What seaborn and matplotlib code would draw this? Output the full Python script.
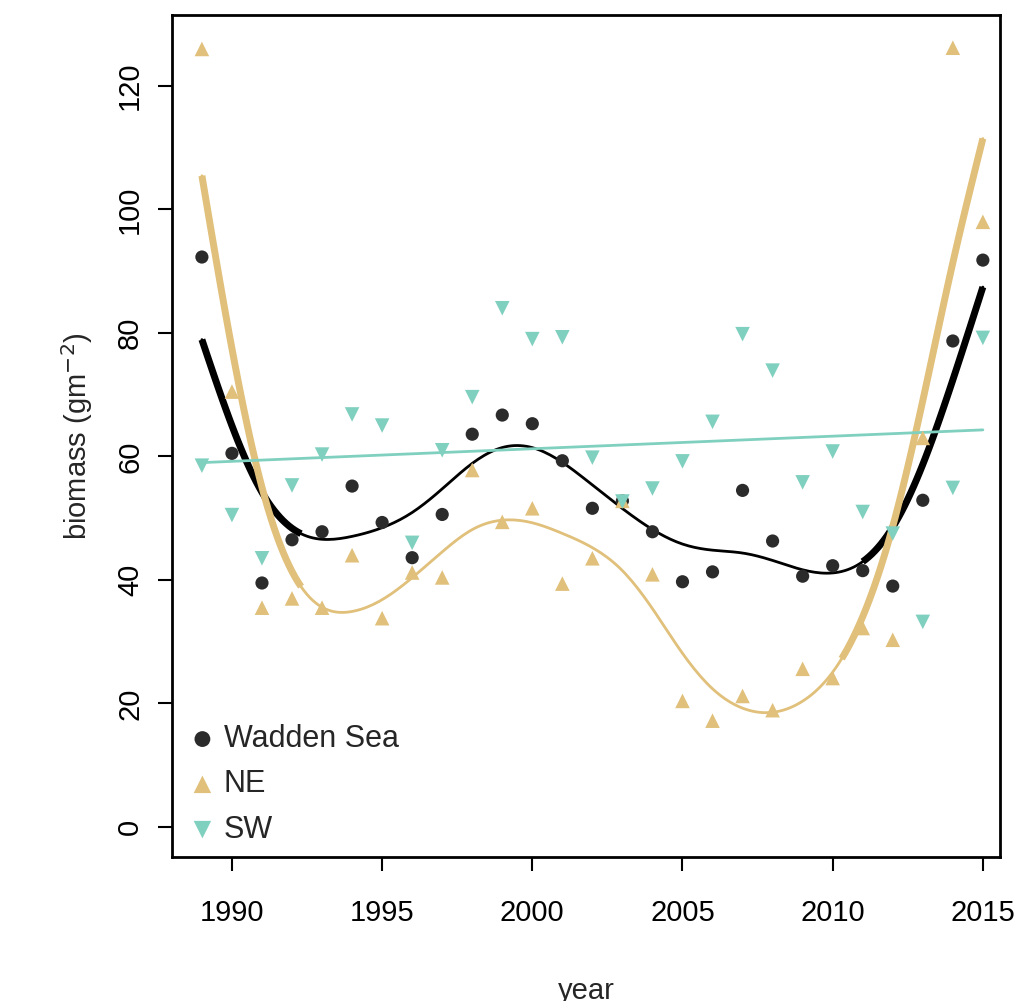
import numpy as np
import matplotlib.pyplot as plt
import seaborn as sns

sns.set_style("ticks")
plt.rcParams['font.family'] = ['Liberation Sans', 'DejaVu Sans']

years = np.arange(1989, 2016)
wadden = [92.3, 60.5, 39.5, 46.5, 47.8, 55.2, 49.3, 43.6, 50.6, 63.6, 66.7, 65.3, 59.3, 51.6,
          52.8, 47.8, 39.7, 41.3, 54.5, 46.3, 40.6, 42.3, 41.5, 39.0, 52.9, 78.7, 91.8]
ne = [126.0, 70.5, 35.5, 37.0, 35.5, 44.0, 33.8, 41.2, 40.4, 57.8, 49.4, 51.6, 39.4, 43.5,
      52.8, 40.9, 20.4, 17.2, 21.2, 18.9, 25.6, 24.1, 32.2, 30.3, 63.0, 126.2, 98.0]
sw = [58.5, 50.5, 43.5, 55.3, 60.3, 66.8, 65.0, 46.0, 61.0, 69.6, 84.0, 79.0, 79.3, 59.8,
      52.7, 54.8, 59.2, 65.6, 79.8, 73.9, 55.8, 60.8, 51.0, 47.5, 33.2, 54.9, 79.2]
sw_trend = [59.0, 64.3]  # fitted trend at 1989 and 2015

c_w, c_ne, c_sw = '#2b2b2b', '#e0c07a', '#80d0c0'

fig = plt.figure(figsize=(10.23, 10.01), dpi=100)
ax = fig.add_axes([0.168, 0.144, 0.8095, 0.841])


def smooth(y, lam, thick_ranges, color):
    # penalised (smoothing-spline-like) fit on a fine grid
    h = 0.1
    xx = np.round(np.arange(1989, 2015 + h / 2, h), 3)
    n = len(xx)
    idx = np.round((years - 1989) / h).astype(int)
    w = np.zeros(n)
    w[idx] = 1
    yv = np.zeros(n)
    yv[idx] = y
    D = np.diff(np.eye(n), 2, axis=0)
    A = np.diag(w) + lam / h**3 * D.T @ D
    yy = np.linalg.solve(A, w * yv)
    ax.plot(xx, yy, color=color, lw=2)
    for a, b in thick_ranges:
        m = (xx >= a) & (xx <= b)
        ax.plot(xx[m], yy[m], color=color, lw=5, solid_capstyle='butt')


sns.scatterplot(x=years, y=wadden, color=c_w, marker='o', s=90, edgecolor='none', ax=ax, label='Wadden Sea', zorder=3)
sns.scatterplot(x=years, y=ne, color=c_ne, marker='^', s=110, edgecolor='none', ax=ax, label='NE', zorder=3)
sns.scatterplot(x=years, y=sw, color=c_sw, marker='v', s=110, edgecolor='none', ax=ax, label='SW', zorder=3)

smooth(np.array(wadden), 4.0, [(1989, 1992.3), (2011, 2015)], 'black')
smooth(np.array(ne), 3.5, [(1989, 1992.3), (2010.3, 2015)], c_ne)
ax.plot([1989, 2015], sw_trend, color=c_sw, lw=2)

ax.set_xlim(1988.0, 2015.57)
ax.set_ylim(-4.86, 131.5)
ax.set_xticks([1990, 1995, 2000, 2005, 2010, 2015])
ax.set_yticks([0, 20, 40, 60, 80, 100, 120])
ax.tick_params(labelsize=21, length=10, width=1.5, direction='out', colors='black')
ax.tick_params(axis='x', pad=20)
ax.tick_params(axis='y', pad=10)
for t in ax.get_yticklabels():
    t.set_rotation(90)
    t.set_va('center')
for s in ax.spines.values():
    s.set_visible(True)
    s.set_linewidth(2)
    s.set_color('black')
ax.set_xlabel('year', fontsize=21, labelpad=36)
ax.set_ylabel('biomass (gm$^{-2}$)', fontsize=21, labelpad=15)
ax.legend(loc='lower left', frameon=False, fontsize=22, handletextpad=0.1, borderaxespad=0.1,
          markerscale=1.2, borderpad=0.3, labelspacing=0.5, handlelength=1.2)

plt.savefig('out.png', dpi=100)
